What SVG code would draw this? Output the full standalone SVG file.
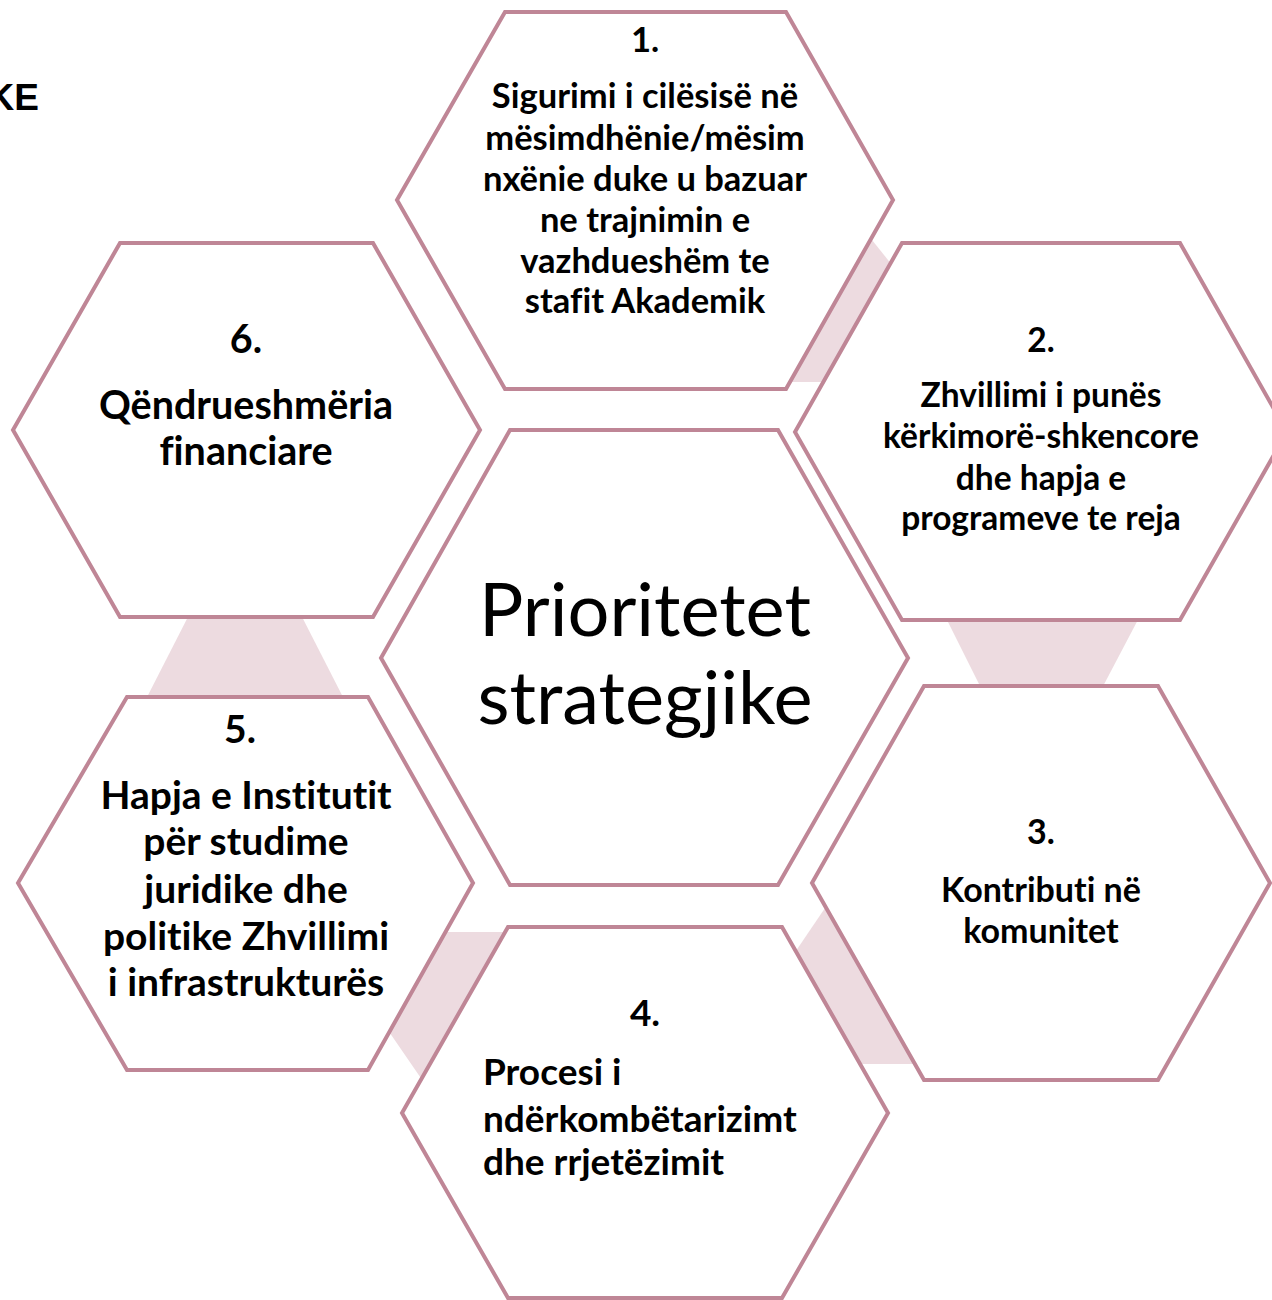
<svg xmlns="http://www.w3.org/2000/svg" width="1272" height="1300" viewBox="0 0 1272 1300">
<style>
.hex{fill:#FFFFFF;stroke:#BF8696;stroke-width:4;stroke-linejoin:miter}
.pink{fill:#EDDBE0;stroke:none}
.t{font-family:Lato,"Open Sans","Liberation Sans",sans-serif;font-weight:bold;fill:#000000;text-anchor:middle;font-variant-ligatures:none}
.c{font-family:Lato,"Open Sans","Liberation Sans",sans-serif;font-weight:normal;fill:#000000;text-anchor:middle;font-size:74px;font-variant-ligatures:none}
</style>
<rect x="0" y="0" width="1272" height="1300" fill="#FFFFFF"/>
<text x="39" y="110" font-family="'Liberation Sans',Arial,sans-serif" font-weight="bold" font-size="37" text-anchor="end" fill="#000000">KE</text>
<g id="connectors">
<polygon class="pink" points="860,225 900,275 840,382 780,382"/>
<polygon class="pink" points="944,614 1141,614 1100,692 983,692"/>
<polygon class="pink" points="844,880 940,1064 840,1064 783,970"/>
<polygon class="pink" points="440,932 520,932 436,1100 374,1010"/>
<polygon class="pink" points="191,611 299,611 346,703 144,703"/>
</g>
<g id="node-center">
<polygon class="hex" points="381,658 510,430 778,430 908,658 778,885 510,885"/>
<text class="c" x="645" y="636">Prioritetet</text>
<text class="c" x="645" y="724">strategjike</text>
</g>
<g id="node-1">
<polygon class="hex" points="397,200 505,12 786,12 893,200 786,389 505,389"/>
<g class="t" font-size="34.5">
<text x="645" y="52">1.</text>
<text x="645" y="108">Sigurimi i cilësisë në</text>
<text x="645" y="150">mësimdhënie/mësim</text>
<text x="645" y="191">nxënie duke u bazuar</text>
<text x="645" y="232">ne trajnimin e</text>
<text x="645" y="273">vazhdueshëm te</text>
<text x="645" y="313">stafit Akademik</text>
</g>
</g>
<g id="node-2">
<polygon class="hex" points="795,432 902,243 1180,243 1287,432 1180,620 902,620"/>
<g class="t" font-size="33.5">
<text x="1041" y="352">2.</text>
<text x="1041" y="407">Zhvillimi i punës</text>
<text x="1041" y="448">kërkimorë-shkencore</text>
<text x="1041" y="490">dhe hapja e</text>
<text x="1041" y="530">programeve te reja</text>
</g>
</g>
<g id="node-3">
<polygon class="hex" points="812,883 924,686 1158,686 1270,883 1158,1080 924,1080"/>
<g class="t" font-size="34">
<text x="1041" y="844">3.</text>
<text x="1041" y="902">Kontributi në</text>
<text x="1041" y="943">komunitet</text>
</g>
</g>
<g id="node-4">
<polygon class="hex" points="402,1113 508,927 782,927 888,1113 782,1298 508,1298"/>
<g class="t" font-size="37">
<text x="645" y="1026">4.</text>
<text x="483" y="1085" text-anchor="start">Procesi i</text>
<text x="483" y="1132" text-anchor="start">ndërkombëtarizimt</text>
<text x="483" y="1175" text-anchor="start">dhe rrjetëzimit</text>
</g>
</g>
<g id="node-5">
<polygon class="hex" points="18,883 127,697 368,697 473,883 368,1070 127,1070"/>
<g class="t" font-size="39">
<text x="240" y="743">5.</text>
<text x="246" y="809">Hapja e Institutit</text>
<text x="246" y="855">për studime</text>
<text x="246" y="903">juridike dhe</text>
<text x="246" y="950">politike Zhvillimi</text>
<text x="246" y="996">i infrastrukturës</text>
</g>
</g>
<g id="node-6">
<polygon class="hex" points="13,430 120,243 373,243 480,430 373,617 120,617"/>
<g class="t" font-size="39.5">
<text x="246" y="353">6.</text>
<text x="246" y="419">Qëndrueshmëria</text>
<text x="246" y="465">financiare</text>
</g>
</g>
</svg>
